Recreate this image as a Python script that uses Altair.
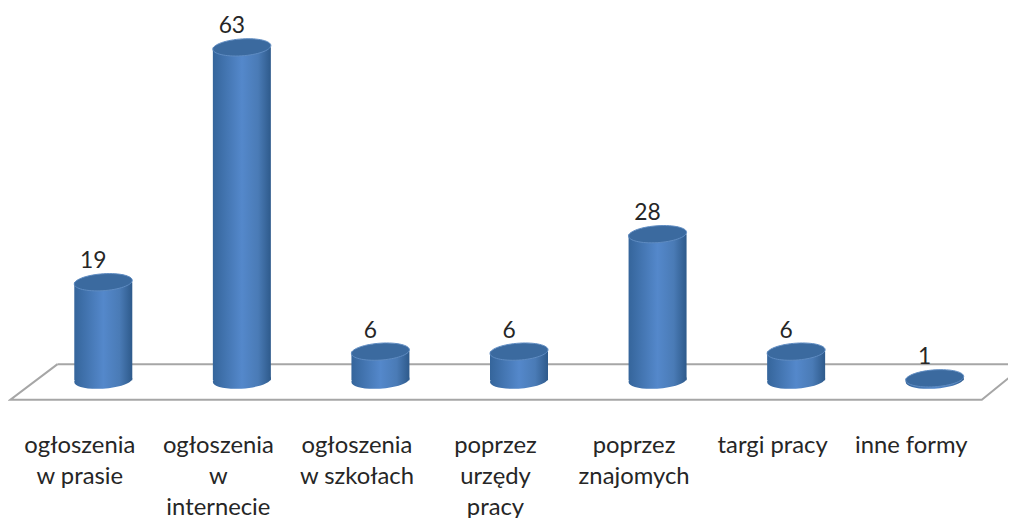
import altair as alt
import pandas as pd

categories = ["ogłoszenia|w prasie", "ogłoszenia|w|internecie", "ogłoszenia|w szkołach",
              "poprzez|urzędy|pracy", "poprzez|znajomych", "targi pracy", "inne formy"]
values = [19, 63, 6, 6, 28, 6, 1]
base_level = 0.65
floor_x = [-0.33, -0.67, 6.34, 6.59, -0.33, 6.62]
floor_y = [3.65, -3, -3, 2.25, 3.65, 3.65]
floor_part = ["a", "a", "a", "a", "b", "b"]

df = pd.DataFrame({"i": list(range(len(values))), "v": values, "base": [base_level] * len(values)})
floor = pd.DataFrame({"x": floor_x, "y": floor_y, "part": floor_part, "o": range(len(floor_x))})

FONT = "Lato"
labels_js = "[" + ",".join("'" + c + "'" for c in categories) + "]"

xs = alt.Scale(domain=[-0.5, 6.5], nice=False, zero=False, padding=0)
ys = alt.Scale(domain=[-4, 70], nice=False, zero=False)
xaxis = alt.Axis(values=list(range(7)), labelExpr=f"split({labels_js}[datum.value],'|')",
                 domain=False, ticks=False, grid=False, labelFont=FONT, labelFontSize=23.8,
                 labelColor="#262626", labelPadding=28, labelLineHeight=31, labelAngle=0,
                 labelOffset=-24,
                 labelFlush=False, labelOverlap=False, labelBound=False, title=None)
xenc = alt.X("i:Q", scale=xs, title=None, axis=xaxis)
yenc = alt.Y("v:Q", scale=ys, title=None, axis=None)

side = alt.Gradient(gradient="linear", x1=0, x2=1, y1=0, y2=0, stops=[
    alt.GradientStop(offset=0, color="#35659b"),
    alt.GradientStop(offset=0.5, color="#5488cb"),
    alt.GradientStop(offset=0.78, color="#4a7bb6"),
    alt.GradientStop(offset=1, color="#2e5a8b"),
])
ELLIPSE = "M -1 0.06 A 1 0.29 -4 1 1 1 -0.06 A 1 0.29 -4 1 1 -1 0.06 Z"
WID = 58

floor_layer = alt.Chart(floor).mark_line(color="#a6a6a6", strokeWidth=2, clip=False).encode(
    x=alt.X("x:Q", scale=xs, title=None, axis=xaxis), y=alt.Y("y:Q", scale=ys, axis=None),
    detail="part:N", order="o:Q")

base = alt.Chart(df)
bottom = base.mark_point(shape=ELLIPSE, size=WID**2, filled=True, fill=side, opacity=1, strokeWidth=0).encode(
    x=xenc, y=alt.Y("base:Q", scale=ys, axis=None))
bars = base.mark_bar(size=WID, fill=side, orient="vertical").encode(
    x=xenc, y=yenc, y2="base:Q")
top = base.mark_point(shape=ELLIPSE, size=WID**2, filled=True, fill="#3b6a9f", opacity=1,
                      stroke="#5f8cc2", strokeWidth=1).encode(x=xenc, y=yenc)
text = base.mark_text(font=FONT, fontSize=22.8, color="#262626", dx=-10, dy=-21, baseline="middle").encode(
    x=xenc, y=yenc, text="v:Q")

chart = alt.layer(floor_layer, bottom, bars, top, text).properties(
    width=970, height=395,
    padding={"left": 26, "top": 2, "right": 4, "bottom": 113},
    autosize=alt.AutoSizeParams(type="none"),
).configure_view(stroke=None)

chart.save("out.html", embed_options={"renderer": "svg", "actions": False})
